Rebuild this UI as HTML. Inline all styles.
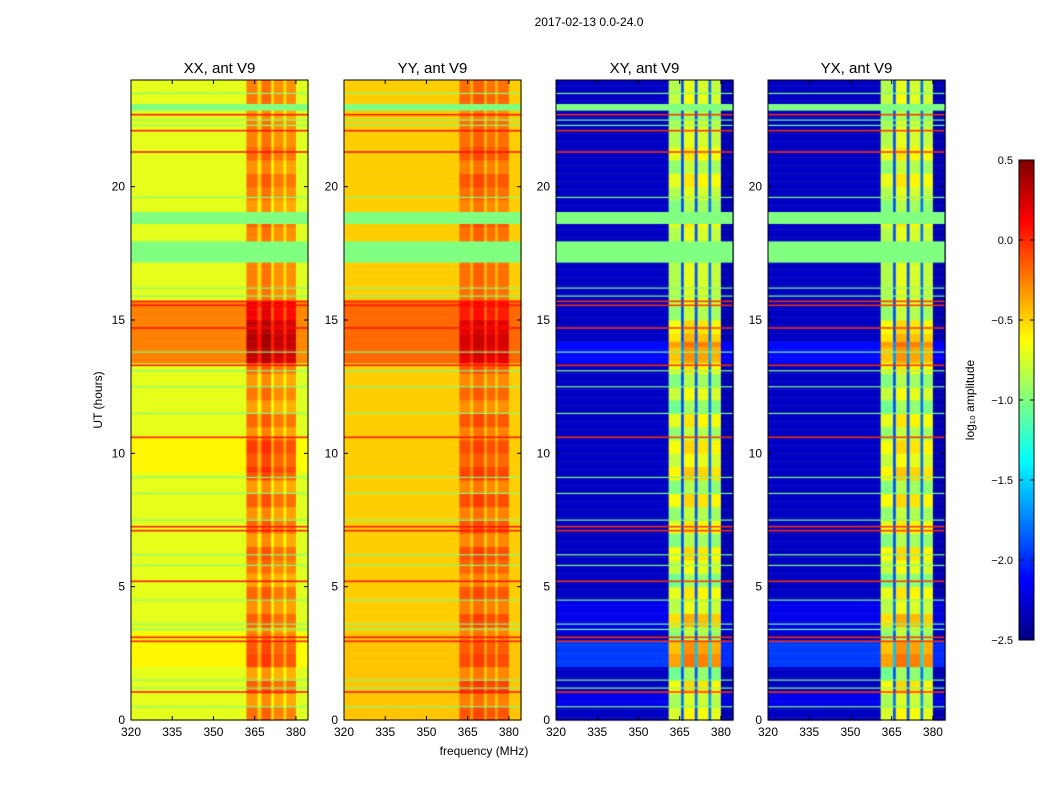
<!DOCTYPE html>
<html><head><meta charset="utf-8">
<style>
html,body{margin:0;padding:0;background:#fff;}
body{width:1050px;height:800px;position:relative;overflow:hidden;font-family:"Liberation Sans",sans-serif;}
canvas{position:absolute;}
svg{position:absolute;left:0;top:0;}
</style></head>
<body>
<canvas id="hm" width="1050" height="800" style="left:0;top:0"></canvas>
<svg id="ax" width="1050" height="800"></svg>
<script>
// ---- data ----
const panelTitles = ["XX, ant V9","YY, ant V9","XY, ant V9","YX, ant V9"];
const xTicks = [320,335,350,365,380];
const yTicks = [0,5,10,15,20];
const cbTicks = [0.5,0.0,-0.5,-1.0,-1.5,-2.0,-2.5];
const freqXX = [[320,362,-0.7],[362,366,-0.25],[366,367.5,-0.5],[367.5,371,-0.2],[371,372,-0.55],[372,375.5,-0.3],[375.5,376.5,-0.55],[376.5,380,-0.3],[380,384.4,-0.72]];
const freqYY = [[320,362,-0.48],[362,366,-0.2],[366,367,-0.4],[367,371,-0.15],[371,372,-0.4],[372,375,-0.2],[375,376,-0.4],[376,380,-0.2],[380,384.4,-0.48]];
const freqXY = [[320,361,-2.3],[361,365.5,-0.85],[365.5,366.5,-1.9],[366.5,370.5,-0.7],[370.5,371.5,-1.9],[371.5,375.5,-0.75],[375.5,376.5,-1.8],[376.5,380,-0.8],[380,384.4,-2.35]];
const freqYX = [[320,361,-2.3],[361,365.5,-0.85],[365.5,366.5,-1.9],[366.5,370.5,-0.7],[370.5,371.5,-1.9],[371.5,375.5,-0.75],[375.5,376.5,-1.8],[376.5,380,-0.8],[380,384.4,-2.35]];
const rowXX = [[13.4,15.7,0.45],[2.0,3.3,0.1],[9.3,10.6,0.1]];
const rowYY = [[13.4,15.7,0.3],[0,3.3,0.03]];
const rowXY = [[2.0,3.0,0.35],[13.4,14.2,0.2],[0.5,1.0,0.12],[3.3,4.5,0.12]];
const rowYX = [[2.0,3.0,0.35],[13.4,14.2,0.2],[0.5,1.0,0.12],[3.3,4.5,0.12]];
const colMod = [0.1,-0.15,0.2,-0.2,0.15,0.05,-0.15,0.2,-0.1,0.15,-0.2,0.05,0.2,-0.15,0.15,-0.1,0.2,-0.15,0.25,0.05,0.2,-0.1,0.15,-0.2,0.05,-0.15,0.15,0.2,0.3,0.2,-0.1,0.0,0.0,0.0,0.0,0.0,0.0,0.15,-0.15,0.0,0.15,-0.1,0.15,0.0,0.0,-0.15,0.05,0.0];
const flagBands = [[17.15,17.95],[18.6,19.05],[22.85,23.1]];
const greenLines = [0.5,1.2,1.5,3.4,3.6,4.5,5.8,6.2,7.5,8.5,9.1,11.5,12.5,13.1,13.8,15.9,16.2,19.6,22.3,22.5,23.5];
const redLines = [1.05,2.95,3.1,5.2,7.1,7.25,10.6,13.3,14.7,15.55,15.7,21.3,22.1,22.7];

const freqs=[freqXX,freqYY,freqXY,freqYX], rows=[rowXX,rowYY,rowXY,rowYX];
const PX=[131,344,556,768], PW=177, PT=80, PB=720, F0=320, F1=384.4;
const xs=(p,f)=>PX[p]+(f-F0)/(F1-F0)*PW;
const ys=t=>PB-t/24*(PB-PT);
function jet(v){
  let x=Math.max(0,Math.min(1,(v+2.5)/3));
  const c=k=>Math.round(255*Math.max(0,Math.min(1,1.5-Math.abs(4*x-k))));
  return `rgb(${c(3)},${c(2)},${c(1)})`;
}
const ctx=document.getElementById('hm').getContext('2d');
const NT=240;
for(let p=0;p<4;p++){
  for(const seg of freqs[p]){
    for(let i=0;i<NT;i++){
      const t=(i+0.5)*24/NT;
      let v=seg[2];
      for(const r of rows[p]) if(t>=r[0]&&t<r[1]) v+=r[2];
      if(seg[0]>=361&&seg[1]<=380&&seg[2]>-1.5) v+=colMod[Math.floor(t*2)]*(p<2?0.5:1);
      ctx.fillStyle=jet(v);
      const x0=xs(p,seg[0]),x1=xs(p,seg[1]);
      ctx.fillRect(x0,ys((i+1)*24/NT),x1-x0+0.5,ys(i*24/NT)-ys((i+1)*24/NT)+0.5);
    }
  }
  ctx.fillStyle='#80ff80';
  for(const b of flagBands) ctx.fillRect(PX[p],ys(b[1]),PW,ys(b[0])-ys(b[1]));
  for(const g of greenLines) ctx.fillRect(PX[p],ys(g)-0.5,PW,1.2);
  ctx.fillStyle=p<2?'#ff1000':'#ff3000';
  for(const r of redLines) ctx.fillRect(PX[p],ys(r)-0.75,PW,1.5);
}
for(let y=160;y<640;y++){ctx.fillStyle=jet(0.5-(y-160)/480*3);ctx.fillRect(1019,y,15,1);}

const svg=document.getElementById('ax');const NS='http://www.w3.org/2000/svg';
function el(tag,attrs,text){const e=document.createElementNS(NS,tag);for(const k in attrs)e.setAttribute(k,attrs[k]);if(text!==undefined)e.textContent=text;svg.appendChild(e);return e;}
let e=el('text',{x:589,y:26,'font-size':12,'text-anchor':'middle'},'2017-02-13 0.0-24.0');


for(let p=0;p<4;p++){
  e=el('rect',{x:PX[p],y:PT,width:PW,height:PB-PT,fill:'none',stroke:'#000','stroke-width':1});
  
  
  e=el('text',{x:PX[p]+PW/2,y:73,'font-size':15,'text-anchor':'middle'},panelTitles[p]);
  
  
  for(const f of xTicks){const x=xs(p,f);
    el('line',{x1:x,x2:x,y1:PB,y2:PB-4,stroke:'#000'});el('line',{x1:x,x2:x,y1:PT,y2:PT+4,stroke:'#000'});
    e=el('text',{x:x,y:PB+16,'font-size':12,'text-anchor':'middle'},f);
    
    }
  for(const t of yTicks){const y=ys(t);
    el('line',{x1:PX[p],x2:PX[p]+4,y1:y,y2:y,stroke:'#000'});el('line',{x1:PX[p]+PW,x2:PX[p]+PW-4,y1:y,y2:y,stroke:'#000'});
    e=el('text',{x:PX[p]-6,y:y+4,'font-size':12,'text-anchor':'end'},t);
    
    }
}
e=el('text',{x:484,y:755,'font-size':12,'text-anchor':'middle'},'frequency (MHz)');


e=el('text',{x:0,y:0,'font-size':12,'text-anchor':'middle',transform:'translate(102,400) rotate(-90)'},'UT (hours)');


e=el('rect',{x:1019,y:160,width:15,height:480,fill:'none',stroke:'#000'});


for(const v of cbTicks){const y=160+(0.5-v)/3*480;
  el('line',{x1:1034,x2:1030,y1:y,y2:y,stroke:'#000'});
  el('line',{x1:1019,x2:1023,y1:y,y2:y,stroke:'#000'});
  e=el('text',{x:1013,y:y+4,'font-size':11,'text-anchor':'end'},(v<0?'\u2212':'')+Math.abs(v).toFixed(1));
  
  }
e=el('text',{x:0,y:0,'font-size':12,'text-anchor':'middle',transform:'translate(974,400) rotate(-90)'},'log\u2081\u2080 amplitude');


</script>
</body></html>
